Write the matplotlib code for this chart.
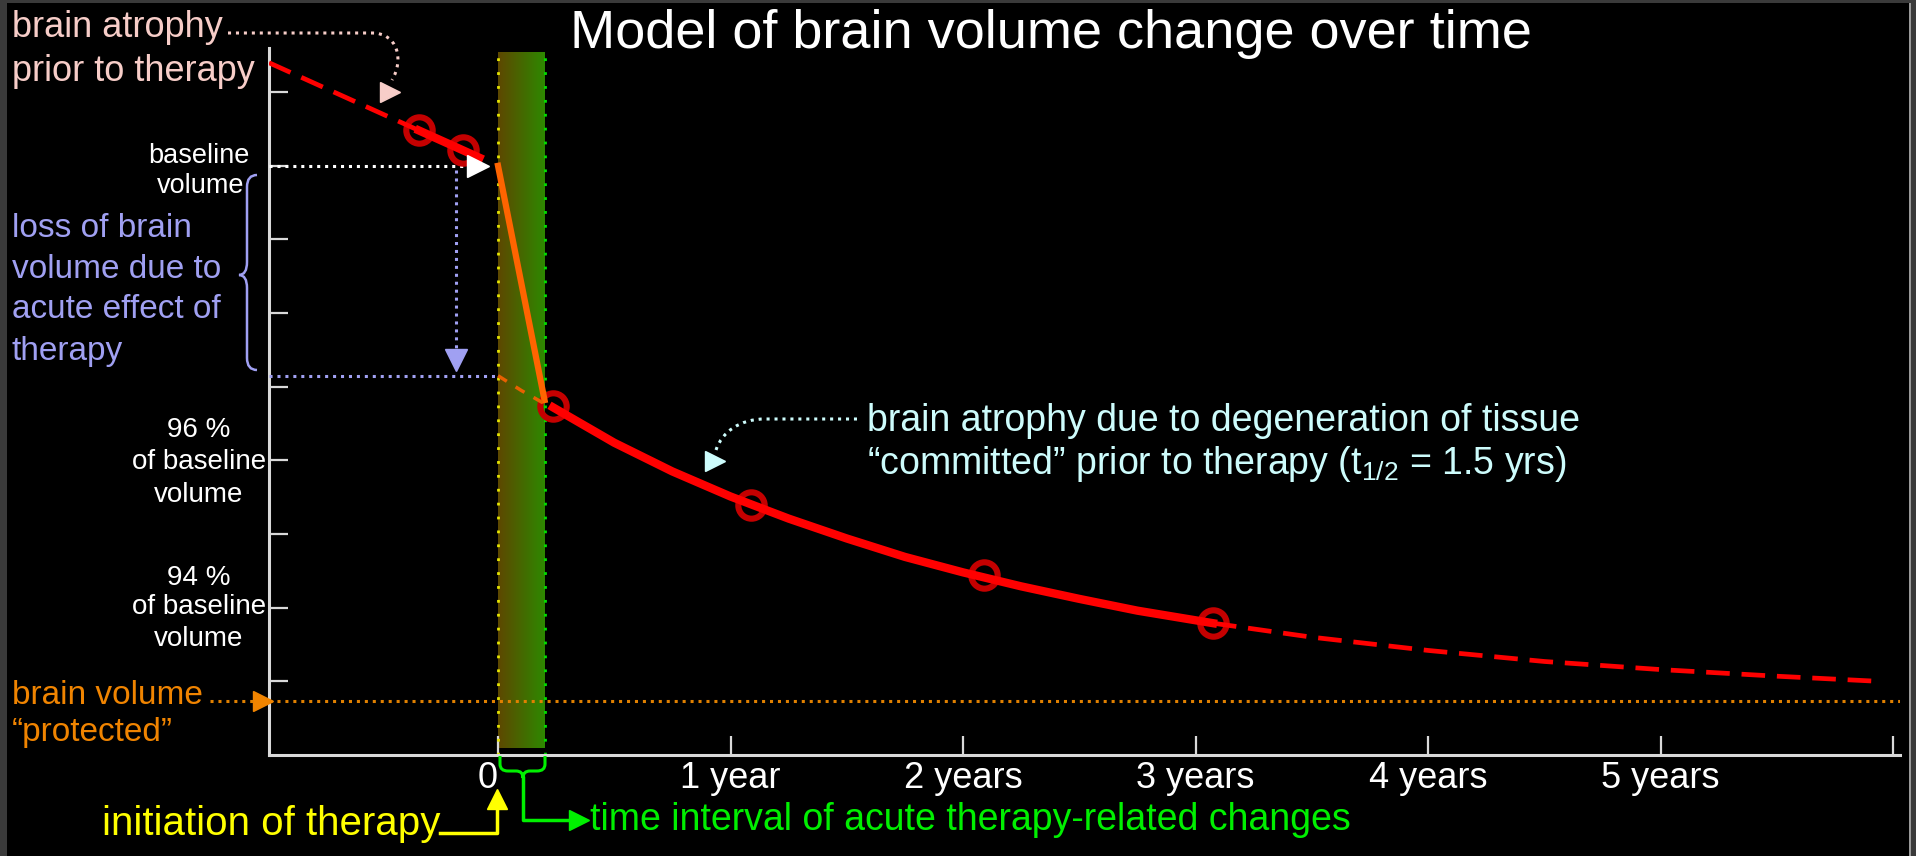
import numpy as np
import matplotlib
matplotlib.use('Agg')
import matplotlib.pyplot as plt
from matplotlib.patches import Rectangle, PathPatch
from matplotlib.path import Path
from matplotlib.colors import LinearSegmentedColormap

W, H = 1916, 856

# values: years since start of therapy, % of baseline volume
pre_dash_t = [-0.985, -0.34]
pre_dash_v = [101.40, 100.48]
pre_solid_t = [-0.34, -0.15, -0.08]
pre_solid_v = [100.48, 100.21, 100.11]
acute_t = [0.0, 0.2]
acute_v = [100.0, 96.82]
committed_t = [0.0, 0.1, 0.2]
committed_v = [97.15, 96.95, 96.77]
decay_t = [0.237, 0.5, 0.75, 1.0, 1.25, 1.5, 1.75, 2.0, 2.25, 2.5, 2.75, 3.075]
decay_v = [96.72, 96.24, 95.85, 95.51, 95.21, 94.94, 94.69, 94.48, 94.29, 94.12, 93.96, 93.79]
tail_t = [3.075, 3.5, 4.0, 4.5, 5.0, 5.5, 5.94]
tail_v = [93.79, 93.60, 93.42, 93.27, 93.16, 93.07, 93.00]
marker_t = [-0.34, -0.15, 0.237, 1.09, 2.09, 3.075]
marker_v = [100.48, 100.21, 96.74, 95.40, 94.45, 93.79]

baseline = 100.0
after_acute = 97.15
protected = 92.73
acute_end = 0.2

year_ticks = [0, 1, 2, 3, 4, 5, 6]
year_labels = ['0', '1 year', '2 years', '3 years', '4 years', '5 years', '']
pct_ticks = [93, 94, 95, 96, 97, 98, 99, 100, 101]

plt.rcParams['font.family'] = ['Liberation Sans', 'DejaVu Sans']
plt.rcParams['mathtext.fontset'] = 'custom'
plt.rcParams['mathtext.rm'] = 'Liberation Sans'

PINK = '#f7cdc8'
LAV = '#a0a0f2'
ORANGE = '#f08400'
CYAN = '#cdfcfc'
YEL = '#ffff00'
GRN = '#00f000'
AXC = '#d9d9d9'

fig = plt.figure(figsize=(W / 100, H / 100), dpi=100, facecolor='#3a3a3a')
fig.add_artist(Rectangle((7 / W, 0), (1909 - 7) / W, (H - 3) / H, transform=fig.transFigure,
                         facecolor='black', edgecolor='none', zorder=-1))
fig.add_artist(Rectangle((1909 / W, 0), 2 / W, (H - 3) / H, transform=fig.transFigure,
                         facecolor='#9a9a9a', edgecolor='none', zorder=-1))

ax = fig.add_axes([269 / W, 1 - 755 / H, (1900 - 269) / W, (755 - 48) / H])
ax.set_facecolor('black')

# acute interval band
grad = np.linspace(0, 1, 60).reshape(1, -1)
cmap = LinearSegmentedColormap.from_list('band', ['#5e4800', '#2e8800'])
ax.imshow(grad, extent=[0, acute_end, 92.1, 101.55], aspect='auto', cmap=cmap, zorder=1)
dots = (0, (1, 4))
ax.plot([0, 0], [92.0, 101.55], color='#e6e600', lw=2, ls=dots, zorder=2)
ax.plot([acute_end, acute_end], [92.0, 101.55], color='#00e000', lw=2, ls=dots, zorder=2)

# reference dotted lines
fine = (0, (1, 1.6))
ax.plot([-0.985, -0.12], [baseline, baseline], color='white', lw=2.2, ls=fine, zorder=3)
ax.plot([-0.086], [baseline], marker='>', ms=16, color='white', ls='none', zorder=6)
ax.plot([-0.985, 0], [after_acute, after_acute], color=LAV, lw=2.2, ls=fine, zorder=3)
ax.plot([-0.18, -0.18], [99.95, 97.5], color=LAV, lw=2.2, ls=fine, zorder=3)
ax.plot([-0.18], [97.36], marker='v', ms=16, color=LAV, ls='none', zorder=6)
ax.plot([-0.985, 6.03], [protected, protected], color='#e08000', lw=2.2, ls=fine, zorder=3)
ax.plot([-1.01], [protected], marker='>', ms=14, color='#f08400', ls='none', zorder=6, clip_on=False)

# volume curve
red = '#ff0000'
ax.plot(marker_t, marker_v, ls='none', marker='o', ms=19, mfc='none', mec='#c40000', mew=4.4, zorder=4)
ax.plot(pre_dash_t, pre_dash_v, color=red, lw=3.4, ls=(0, (5, 2.5)), zorder=5)
ax.plot(pre_solid_t, pre_solid_v, color=red, lw=6, zorder=5)
ax.plot(acute_t, acute_v, color='#ff6400', lw=4.5, zorder=5)
ax.plot(committed_t, committed_v, color='#e86000', lw=2.5, ls=(0, (3, 3)), zorder=5)
ax.plot(decay_t, decay_v, color=red, lw=6, zorder=5)
ax.plot(tail_t, tail_v, color=red, lw=3.4, ls=(0, (5, 2.5)), zorder=5)

ax.set_xlim(-0.985, 6.03)
ax.set_ylim(92.0, 101.6)
for s in ['top', 'right']:
    ax.spines[s].set_visible(False)
for s in ['left', 'bottom']:
    ax.spines[s].set_color(AXC)
    ax.spines[s].set_linewidth(2.2)
ax.set_xticks(year_ticks)
ax.set_xticklabels(year_labels)
ax.get_xticklabels()[0].set_horizontalalignment('right')
ax.set_yticks(pct_ticks)
ax.set_yticklabels([])
ax.tick_params(direction='in', length=14, width=1.6, color=AXC, labelcolor='white',
               labelsize=26, pad=4)

# overlay in pixel coordinates for the annotations
ov = fig.add_axes([0, 0, 1, 1], zorder=5)
ov.set_xlim(0, W)
ov.set_ylim(H, 0)
ov.axis('off')
ov.patch.set_alpha(0)


def txt(s, x, y, c, size, ha='left'):
    ov.text(x, y, s, color=c, fontsize=size, ha=ha, va='center')


txt('Model of brain volume change over time', 1051, 34, 'white', 39, 'center')

txt('brain atrophy', 12, 27, PINK, 26)
txt('prior to therapy', 12, 71, PINK, 26)
p = Path([(228, 33), (372, 33), (398, 33), (404, 60), (392, 80)],
         [Path.MOVETO, Path.LINETO, Path.CURVE4, Path.CURVE4, Path.CURVE4])
ov.add_patch(PathPatch(p, fill=False, edgecolor=PINK, lw=2.2, ls=fine))
ov.plot([390], [92], marker='>', ms=15, color=PINK, ls='none')

txt('baseline', 250, 156, 'white', 19.5, 'right')
txt('volume', 244, 186, 'white', 19.5, 'right')

for s, y in zip(['loss of brain', 'volume due to', 'acute effect of', 'therapy'],
                [228, 269, 309, 351]):
    txt(s, 12, y, LAV, 24)
b = Path([(257, 175), (247, 175), (247, 187), (247, 262), (247, 275), (239, 275),
          (247, 275), (247, 288), (247, 358), (247, 370), (257, 370)],
         [Path.MOVETO, Path.CURVE3, Path.CURVE3, Path.LINETO, Path.CURVE3, Path.CURVE3,
          Path.CURVE3, Path.CURVE3, Path.LINETO, Path.CURVE3, Path.CURVE3])
ov.add_patch(PathPatch(b, fill=False, edgecolor=LAV, lw=1.8))

for lines, ys in [(['96 %', 'of baseline', 'volume'], [430, 462, 495]),
                  (['94 %', 'of baseline', 'volume'], [578, 607, 639])]:
    for s, y in zip(lines, ys):
        txt(s, 199, y, 'white', 20, 'center')

txt('brain volume', 12, 696, ORANGE, 24)
txt('\u201cprotected\u201d', 12, 733, ORANGE, 24)
ov.plot([210, 254], [701, 701], color='#e08000', lw=2.2, ls=fine)

# bottom annotations
txt('initiation of therapy', 440, 824, YEL, 29, 'right')
ov.plot([440, 497, 497], [833, 833, 806], color=YEL, lw=2.5)
ov.plot([497], [799], marker='^', ms=15, color=YEL, ls='none')

g = Path([(500, 756), (500, 764), (500, 771), (508, 771), (516, 771), (523, 771), (523, 778),
          (523, 771), (530, 771), (537, 771), (545, 771), (545, 764), (545, 756)],
         [Path.MOVETO, Path.LINETO, Path.CURVE3, Path.CURVE3, Path.LINETO, Path.CURVE3, Path.CURVE3,
          Path.CURVE3, Path.CURVE3, Path.LINETO, Path.CURVE3, Path.CURVE3, Path.LINETO])
ov.add_patch(PathPatch(g, fill=False, edgecolor=GRN, lw=2.2))
ov.plot([523, 523, 574], [778, 820, 820], color=GRN, lw=2.5)
ov.plot([579], [820], marker='>', ms=15, color=GRN, ls='none')
txt('time interval of acute therapy-related changes', 590, 820, GRN, 27)

# committed-tissue annotation
txt('brain atrophy due to degeneration of tissue', 867, 421, CYAN, 27)
txt('\u201ccommitted\u201d prior to therapy (t$_{\\rm 1/2}$ = 1.5 yrs)', 867, 464, CYAN, 27)
c = Path([(857, 419), (765, 419), (740, 419), (722, 432), (716, 450)],
         [Path.MOVETO, Path.LINETO, Path.CURVE4, Path.CURVE4, Path.CURVE4])
ov.add_patch(PathPatch(c, fill=False, edgecolor=CYAN, lw=2.2, ls=fine))
ov.plot([715], [461], marker='>', ms=15, color=CYAN, ls='none')

fig.savefig('out.png', dpi=100, facecolor=fig.get_facecolor())
